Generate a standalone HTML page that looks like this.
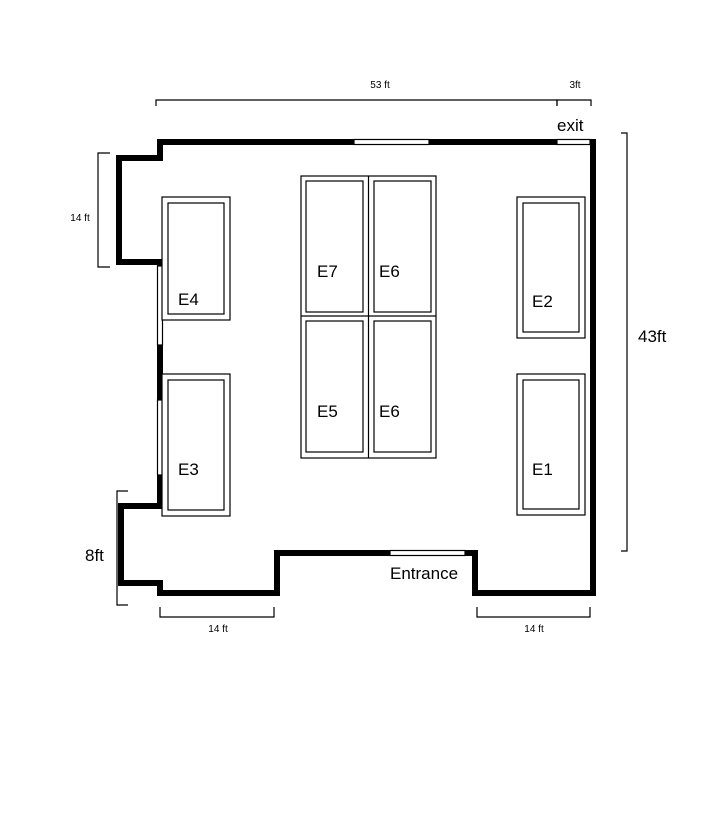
<!DOCTYPE html>
<html><head><style>body{margin:0;background:#fff}</style></head><body>
<svg width="712" height="808" viewBox="0 0 712 808" xmlns="http://www.w3.org/2000/svg" font-family="Liberation Sans, sans-serif">
<rect width="712" height="808" fill="#fff"/>
<g fill="none" stroke="#000" stroke-width="6" stroke-linecap="square">
<polyline points="354,142 160,142 160,158 119,158 119,262 160,262 160,266"/>
<polyline points="429,142 557,142"/>
<polyline points="557,142 593,142 593,593 475,593 475,553 465,553" stroke-linecap="butt"/>
<polyline points="390,553 277,553 277,593 160,593 160,583 121,583 121,506 160,506 160,475"/>
<line x1="160" y1="345" x2="160" y2="398"/>
</g>
<g fill="#fff" stroke="#000" stroke-width="1.2">
<rect x="354" y="139.5" width="75" height="5"/>
<rect x="557" y="139.5" width="33" height="5"/>
<rect x="390" y="550.5" width="75" height="5"/>
<rect x="157.5" y="266" width="5" height="79"/>
<rect x="157.5" y="400" width="5" height="75"/>
</g>
<g fill="none" stroke="#000" stroke-width="1.2">
<rect x="162" y="197" width="68" height="123" fill="#fff"/><rect x="168" y="203" width="56" height="111"/>
<rect x="162" y="374" width="68" height="142" fill="#fff"/><rect x="168" y="380" width="56" height="130"/>
<rect x="517" y="197" width="68" height="141"/><rect x="523" y="203" width="56" height="129"/>
<rect x="517" y="374" width="68" height="141"/><rect x="523" y="380" width="56" height="129"/>
<rect x="301" y="176" width="135" height="282"/>
<line x1="368.5" y1="176" x2="368.5" y2="458"/><line x1="301" y1="316" x2="436" y2="316"/>
<rect x="306" y="181" width="57" height="131"/><rect x="374" y="181" width="57" height="131"/>
<rect x="306" y="321" width="57" height="131"/><rect x="374" y="321" width="57" height="131"/>
<polyline points="156,106 156,100 557,100 557,106"/>
<polyline points="557,106 557,100 591,100 591,106"/>
<polyline points="621,133 627,133 627,551 621,551"/>
<polyline points="110,153 98,153 98,267 110,267"/>
<polyline points="128,491 117,491 117,605 128,605"/>
<polyline points="160,607 160,617 274,617 274,607"/>
<polyline points="477,607 477,617 590,617 590,607"/>
</g>
<g fill="#000" font-size="17">
<text x="178" y="305">E4</text><text x="178" y="475">E3</text>
<text x="532" y="307">E2</text><text x="532" y="475">E1</text>
<text x="317" y="277">E7</text><text x="379" y="277">E6</text>
<text x="317" y="417">E5</text><text x="379" y="417">E6</text>
<text x="557" y="131">exit</text>
<text x="390" y="579">Entrance</text>
<text x="638" y="342">43ft</text>
<text x="85" y="561">8ft</text>
</g>
<g fill="#000" font-size="10" text-anchor="middle">
<text x="380" y="88">53 ft</text><text x="575" y="88">3ft</text>
<text x="80" y="221">14 ft</text>
<text x="218" y="632">14 ft</text><text x="534" y="632">14 ft</text>
</g>
</svg>
</body></html>
